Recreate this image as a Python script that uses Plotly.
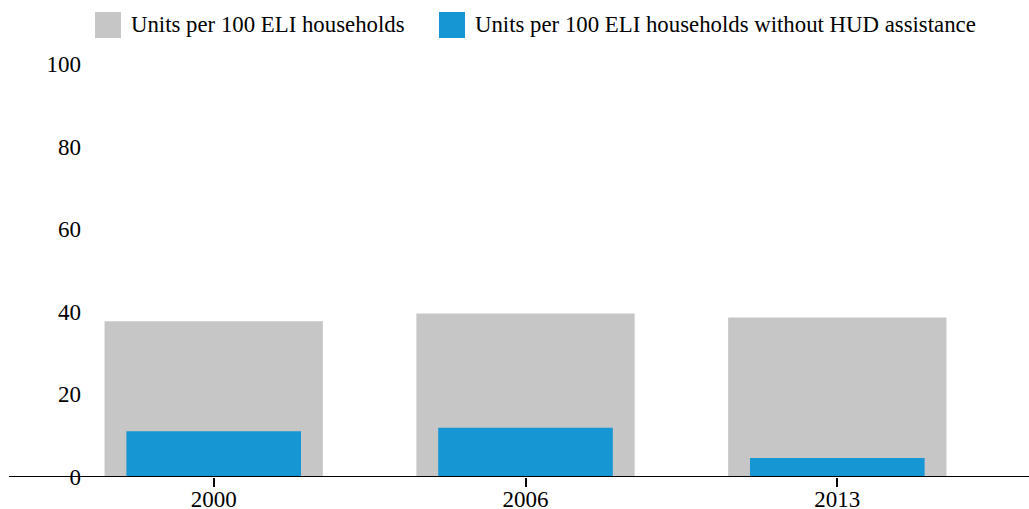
import plotly.graph_objects as go

years = ["2000", "2006", "2013"]
series_names = ["Units per 100 ELI households",
                "Units per 100 ELI households without HUD assistance"]
units_all = [37.7, 39.6, 38.6]
units_no_hud = [11.1, 11.9, 4.6]
y_ticks = [0, 20, 40, 60, 80, 100]

GRAY = "#c6c6c6"
BLUE = "#1796d4"
FONT = "Liberation Serif"

W, H = 1029, 509
ML, MR, MT, MB = 82, 0, 64, 32
PW = W - ML - MR
PH = H - MT - MB

def px_x(p):
    return (p - ML) / PW

def px_y(p):
    return (H - MB - p) / PH

XRANGE = [-(213.7 - ML) / 311.8, (W - 213.7) / 311.8]

fig = go.Figure()
fig.add_trace(go.Bar(x=years, y=units_all, name=series_names[0],
                     marker=dict(color=GRAY, line=dict(width=0)), width=0.7,
                     showlegend=False))
fig.add_trace(go.Bar(x=years, y=units_no_hud, name=series_names[1],
                     marker=dict(color=BLUE, line=dict(width=0)), width=0.56,
                     showlegend=False))
# invisible helper trace so the tick-mark axis (x2) is drawn
fig.add_trace(go.Scatter(x=[0], y=[0], xaxis="x2", yaxis="y", mode="markers",
                         marker=dict(opacity=0), hoverinfo="skip", showlegend=False))

# axis baseline across full width
fig.add_shape(type="line", xref="paper", yref="y", x0=px_x(9), x1=1.0, y0=0, y1=0,
              line=dict(color="black", width=2), layer="above")

# manual legend
for i, (color, sx, tx) in enumerate([(GRAY, 95, 129), (BLUE, 439, 473)]):
    fig.add_shape(type="rect", xref="paper", yref="paper",
                  x0=px_x(sx), x1=px_x(sx + 26), y0=px_y(38), y1=px_y(12),
                  fillcolor=color, line=dict(width=0))
    fig.add_annotation(xref="paper", yref="paper", x=px_x(tx), y=px_y(25),
                       xanchor="left", yanchor="middle", showarrow=False,
                       text=series_names[i], font=dict(family=FONT, size=22.8, color="black"))

fig.update_layout(
    width=W, height=H,
    barmode="overlay",
    margin=dict(l=ML, r=MR, t=MT, b=MB, autoexpand=False),
    paper_bgcolor="white", plot_bgcolor="white",
    font=dict(family=FONT, size=23, color="black"),
    showlegend=False,
    hovermode=False,
    xaxis=dict(range=XRANGE, automargin=False,
               showline=False, showgrid=False, zeroline=False,
               ticks="", ticklabelstandoff=6,
               tickfont=dict(family=FONT, size=23, color="black")),
    # secondary axis used only to draw the tick marks under each category
    xaxis2=dict(range=XRANGE, overlaying="x", anchor="y", side="bottom",
                automargin=False, showline=False, showgrid=False, zeroline=False,
                showticklabels=False, tickmode="array", tickvals=[0, 1, 2],
                ticks="outside", ticklen=9, tickwidth=2, tickcolor="black"),
    yaxis=dict(range=[0, 100], tickvals=y_ticks, showline=False, showgrid=False,
               automargin=False,
               zeroline=False, ticks="",
               tickfont=dict(family=FONT, size=23, color="black")),
)

fig.write_html("out.html", config={"displayModeBar": False},
               post_script="document.body.style.margin='0';document.body.style.overflow='hidden';")
